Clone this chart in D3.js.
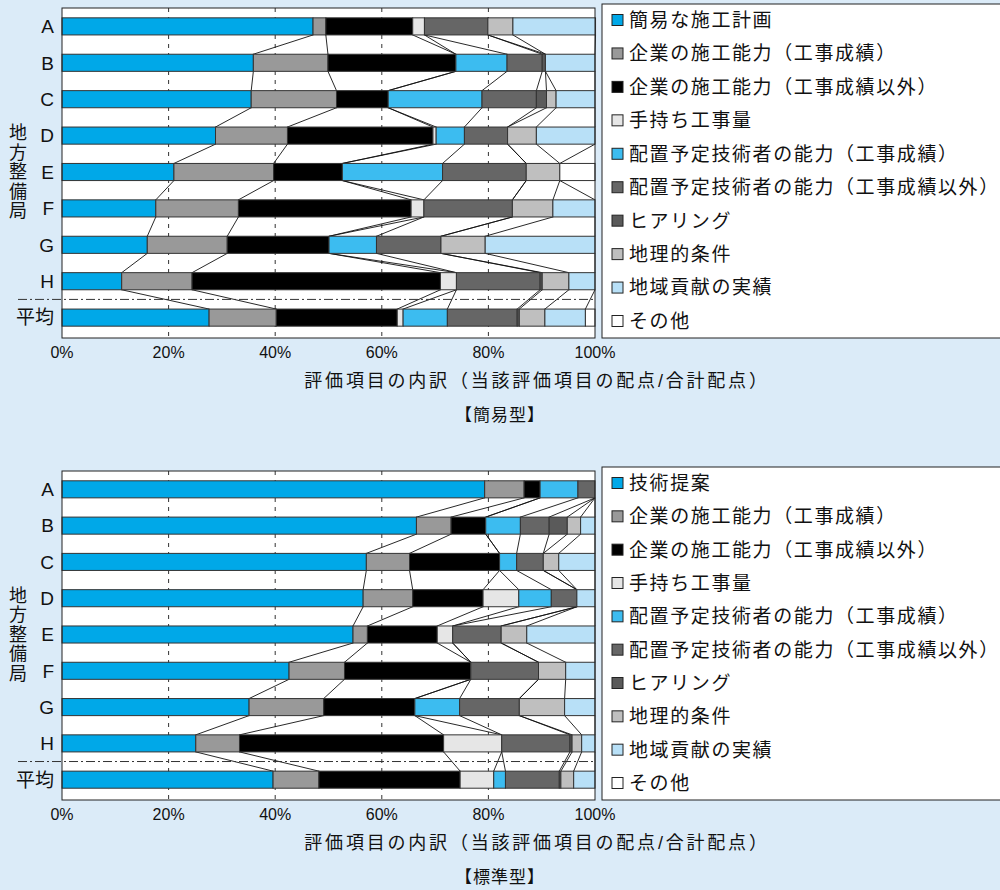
<!DOCTYPE html>
<html>
<head>
<meta charset="utf-8">
<script src="https://cdn.jsdelivr.net/npm/d3@7"></script>
<style>
  body { margin: 0; background: #dbebf8; }
  svg { display: block; font-family: "Liberation Sans", "Noto Sans CJK JP", sans-serif; }
</style>
</head>
<body>
<svg id="chart" width="1000" height="890"></svg>
<script>
// rows (regional bureaus + average)
const regions = ["A", "B", "C", "D", "E", "F", "G", "H", "平均"]

// series names for each panel
const kanniSeries = ["簡易な施工計画", "企業の施工能力（工事成績）", "企業の施工能力（工事成績以外）", "手持ち工事量",
    "配置予定技術者の能力（工事成績）", "配置予定技術者の能力（工事成績以外）", "ヒアリング", "地理的条件", "地域貢献の実績", "その他"]
const hyojunSeries = ["技術提案", "企業の施工能力（工事成績）", "企業の施工能力（工事成績以外）", "手持ち工事量",
    "配置予定技術者の能力（工事成績）", "配置予定技術者の能力（工事成績以外）", "ヒアリング", "地理的条件", "地域貢献の実績", "その他"]

const seriesColors = ["#00a8e8", "#999999", "#000000", "#e6e6e6", "#3cbcf0", "#666666", "#5a5a5a", "#bfbfbf", "#b8e0f7", "#ffffff"]

// share (%) of each evaluation item, one row per region  -- 簡易型
const kanniValues = [
    [47.1, 2.4, 16.3, 2.2, 0, 11.9, 0, 4.7, 15.5, 0],
    [35.9, 14.0, 24.0, 0, 9.6, 6.6, 0.6, 0, 9.3, 0],
    [35.5, 16.0, 9.7, 0, 17.6, 10.2, 1.9, 1.8, 7.3, 0],
    [28.8, 13.5, 27.3, 0.6, 5.3, 8.1, 0, 5.4, 11.0, 0],
    [21.0, 18.7, 12.9, 0, 18.8, 15.7, 0, 6.3, 0, 6.6],
    [17.6, 15.5, 32.4, 2.4, 0, 16.6, 0, 7.6, 7.9, 0],
    [16.0, 15.0, 19.1, 0, 8.9, 12.1, 0, 8.3, 20.6, 0],
    [11.2, 13.2, 46.6, 3.0, 0, 15.7, 0.4, 5.0, 4.9, 0],
    [27.6, 12.6, 22.7, 1.1, 8.3, 13.1, 0.4, 4.8, 7.6, 1.8]
]

// 標準型
const hyojunValues = [
    [79.3, 7.4, 3.0, 0, 7.1, 3.2, 0, 0, 0, 0],
    [66.5, 6.5, 6.5, 0, 6.5, 5.4, 3.4, 2.5, 2.7, 0],
    [57.1, 8.1, 16.9, 0, 3.2, 5.0, 0, 2.9, 6.8, 0],
    [56.5, 9.3, 13.2, 6.7, 6.1, 4.8, 0, 0, 3.4, 0],
    [54.6, 2.7, 13.1, 2.9, 0, 9.1, 0, 4.8, 12.8, 0],
    [42.6, 10.4, 23.7, 0, 0, 12.7, 0, 5.1, 5.5, 0],
    [35.1, 14.0, 17.1, 0, 8.4, 11.2, 0, 8.5, 5.7, 0],
    [25.1, 8.2, 38.3, 10.9, 0, 12.8, 0.4, 1.8, 2.5, 0],
    [39.6, 8.6, 26.5, 6.3, 2.2, 10.1, 0.3, 2.4, 4.0, 0]
]

const xTicks = [0, 20, 40, 60, 80, 100]
const axisTitle = "評価項目の内訳（当該評価項目の配点/合計配点）"
const sideTitle = "地方整備局"

const svg = d3.select("#chart")

const drawPanel = (g, values, series, caption, top, bottom) => {
    const x = d3.scaleLinear().domain([0, 100]).range([62, 595])
    const y = d3.scaleBand()
        .domain(regions)
        .range([top, bottom - 2])
        .paddingInner(0.53)
        .paddingOuter(0.27)
    const bw = y.bandwidth()

    // plot area
    g.append("rect")
        .attr("x", x(0)).attr("y", top)
        .attr("width", x(100) - x(0)).attr("height", bottom - top)
        .attr("fill", "#fff")

    // dashed grid lines
    g.append("g").selectAll("line")
        .data(xTicks.slice(1, -1))
        .join("line")
        .attr("x1", d => x(d)).attr("x2", d => x(d))
        .attr("y1", top).attr("y2", bottom)
        .attr("stroke", "#333")
        .attr("stroke-dasharray", "4,5")

    // cumulative positions
    const stacked = values.map((row, i) => {
        let acc = 0
        return row.map((v, k) => {
            const d = { region: regions[i], k: k, x0: acc, x1: acc + v }
            acc += v
            return d
        })
    })

    // series lines between neighbouring bars
    const links = []
    for (let i = 0; i < stacked.length - 1; i++) {
        for (let k = 0; k < series.length - 1; k++) {
            links.push({ a: stacked[i][k].x1, b: stacked[i + 1][k].x1, r0: regions[i], r1: regions[i + 1] })
        }
    }
    g.append("g").selectAll("line")
        .data(links)
        .join("line")
        .attr("x1", d => x(d.a)).attr("x2", d => x(d.b))
        .attr("y1", d => y(d.r0) + bw).attr("y2", d => y(d.r1))
        .attr("stroke", "#111")
        .attr("stroke-width", 0.9)

    // separator between H and average
    const sepY = (y("H") + bw + y("平均")) / 2
    g.append("line")
        .attr("x1", 18).attr("x2", x(100))
        .attr("y1", sepY).attr("y2", sepY)
        .attr("stroke", "#333")
        .attr("stroke-dasharray", "9,3,2,3")

    // bars
    g.append("g").selectAll("g")
        .data(stacked)
        .join("g")
        .selectAll("rect")
        .data(d => d.filter(s => s.x1 > s.x0))
        .join("rect")
        .attr("x", d => x(d.x0))
        .attr("y", d => y(d.region))
        .attr("width", d => x(d.x1) - x(d.x0))
        .attr("height", bw)
        .attr("fill", d => seriesColors[d.k])
        .attr("stroke", "#333")
        .attr("stroke-width", 1)

    // plot border
    g.append("rect")
        .attr("x", x(0)).attr("y", top)
        .attr("width", x(100) - x(0)).attr("height", bottom - top)
        .attr("fill", "none")
        .attr("stroke", "#222")

    // category labels
    g.append("g").selectAll("text")
        .data(regions)
        .join("text")
        .attr("x", 54)
        .attr("y", d => y(d) + bw / 2)
        .attr("dy", "0.36em")
        .attr("text-anchor", "end")
        .attr("font-size", 19)
        .attr("fill", "#111")
        .text(d => d)

    // vertical side title
    const midY = y("E") + bw / 2
    g.append("g").selectAll("text")
        .data(sideTitle.split(""))
        .join("text")
        .attr("x", 18)
        .attr("y", (d, i) => midY + (i - 2) * 19.5)
        .attr("dy", "0.36em")
        .attr("text-anchor", "middle")
        .attr("font-size", 18)
        .attr("fill", "#111")
        .text(d => d)

    // x ticks
    g.append("g").selectAll("text")
        .data(xTicks)
        .join("text")
        .attr("x", d => x(d))
        .attr("y", bottom + 20)
        .attr("text-anchor", "middle")
        .attr("font-size", 16)
        .attr("fill", "#111")
        .text(d => d + "%")

    g.append("text")
        .attr("x", 537).attr("y", bottom + 49)
        .attr("text-anchor", "middle")
        .attr("font-size", 18)
        .attr("letter-spacing", 2.8)
        .attr("fill", "#111")
        .text(axisTitle)

    g.append("text")
        .attr("x", 500).attr("y", bottom + 83)
        .attr("text-anchor", "middle")
        .attr("font-size", 17)
        .attr("letter-spacing", 1)
        .attr("fill", "#111")
        .text(caption)

    // legend
    const lg = g.append("g")
    lg.append("rect")
        .attr("x", 602).attr("y", top - 4)
        .attr("width", 420).attr("height", bottom - top + 4)
        .attr("fill", "#fff")
        .attr("stroke", "#222")
    const ly = d3.scalePoint().domain(series.map((s, i) => i)).range([top + 12, bottom - 17])
    const items = lg.selectAll("g")
        .data(series)
        .join("g")
        .attr("transform", (d, i) => `translate(612,${ly(i)})`)
    items.append("rect")
        .attr("x", 0).attr("y", -5.5)
        .attr("width", 11).attr("height", 11)
        .attr("fill", (d, i) => seriesColors[i])
        .attr("stroke", "#222")
    items.append("text")
        .attr("x", 17)
        .attr("dy", "0.36em")
        .attr("font-size", 19)
        .attr("letter-spacing", 1.6)
        .attr("fill", "#111")
        .text(d => d)
}

drawPanel(svg.append("g"), kanniValues, kanniSeries, "【簡易型】", 8, 338)
drawPanel(svg.append("g"), hyojunValues, hyojunSeries, "【標準型】", 471, 800)
</script>
</body>
</html>
